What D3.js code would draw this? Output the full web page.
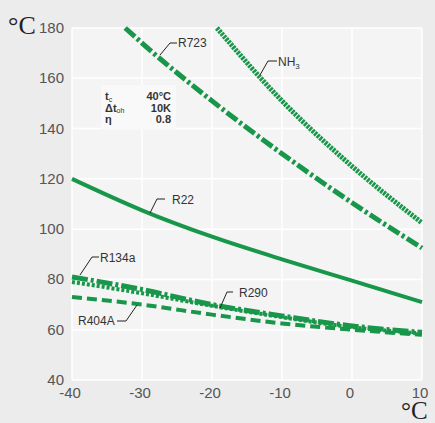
<!DOCTYPE html>
<html>
<head>
<meta charset="utf-8">
<script src="https://cdn.jsdelivr.net/npm/d3@7"></script>
<style>
  body { margin: 0; background: #ececec; }
  svg { display: block; font-family: "Liberation Sans", Arial, sans-serif; }
</style>
</head>
<body>
<div id="chart"></div>
<script>
// Data (evaporating temp °C -> discharge temp °C)
const xTicks = [-40, -30, -20, -10, 0, 10];
const yTicks = [40, 60, 80, 100, 120, 140, 160, 180];

const r22 = [[-40, 120], [-30, 107.5], [-20, 97], [-10, 88], [0, 79.5], [10, 71]];
const r723 = [[-32.4, 180], [-30, 174], [-20, 151], [-10, 130], [0, 110.5], [10, 92.5]];
const nh3 = [[-19.3, 180], [-10, 151], [0, 125], [10, 102.5]];
const r134a = [[-40, 81], [-30, 76], [-20, 70], [-10, 65.5], [0, 61.5], [10, 59]];
const r290 = [[-40, 79], [-30, 74.5], [-20, 69.5], [-10, 65], [0, 61], [10, 58.5]];
const r404a = [[-40, 73], [-30, 70], [-20, 66], [-10, 62.5], [0, 60], [10, 58]];

const boxRows = [["t", "c", "40°C"], ["Δt", "oh", "10K"], ["η", "", "0.8"]];

const width = 435, height = 423;
const margin = { top: 28, right: 13, bottom: 43, left: 72 };

const svg = d3.select("#chart").append("svg")
  .attr("width", width)
  .attr("height", height);

const x = d3.scaleLinear().domain([-40, 10]).range([margin.left, width - margin.right]);
const y = d3.scaleLinear().domain([40, 180]).range([height - margin.bottom, margin.top]);

const green = "#18964a";

// plot background
svg.append("rect")
  .attr("x", x(-40)).attr("y", y(180))
  .attr("width", x(10) - x(-40)).attr("height", y(40) - y(180))
  .attr("fill", "#f3f4f3");

// grid
svg.append("g").selectAll("line").data(xTicks).join("line")
  .attr("x1", d => x(d)).attr("x2", d => x(d))
  .attr("y1", y(40)).attr("y2", y(180))
  .attr("stroke", "#fff").attr("stroke-width", 1.5);
svg.append("g").selectAll("line").data(yTicks).join("line")
  .attr("x1", x(-40)).attr("x2", x(10))
  .attr("y1", d => y(d)).attr("y2", d => y(d))
  .attr("stroke", "#fff").attr("stroke-width", 1.5);

// tick labels
svg.append("g").selectAll("text").data(yTicks).join("text")
  .attr("x", 64).attr("y", d => y(d) + 5)
  .attr("text-anchor", "end")
  .attr("font-size", 15).attr("fill", "#555")
  .text(d => d);
svg.append("g").selectAll("text").data(xTicks).join("text")
  .attr("x", d => x(d) - 2).attr("y", 398)
  .attr("text-anchor", "middle")
  .attr("font-size", 15).attr("fill", "#555")
  .text(d => d);

// unit labels
svg.append("text").attr("x", 8).attr("y", 34)
  .attr("font-family", "Liberation Serif, serif").attr("font-size", 26).attr("fill", "#222")
  .text("°C");
svg.append("text").attr("x", 401).attr("y", 419)
  .attr("font-family", "Liberation Serif, serif").attr("font-size", 25).attr("fill", "#222")
  .text("°C");

// conditions box
const box = svg.append("g");
box.append("rect").attr("x", 101).attr("y", 85).attr("width", 75).attr("height", 44)
  .attr("fill", "#f9f9f9");
boxRows.forEach((r, i) => {
  const yy = 100 + i * 11.5;
  const main = box.append("text").attr("x", 105).attr("y", yy)
    .attr("font-size", 11).attr("font-weight", "bold").attr("fill", "#333")
    .text(r[0]);
  if (r[1]) {
    const w = main.node().getComputedTextLength();
    box.append("text").attr("x", 105 + w).attr("y", yy + 1.5)
      .attr("font-size", 7).attr("fill", "#333")
      .text(r[1]);
  }
  box.append("text").attr("x", 171).attr("y", yy)
    .attr("text-anchor", "end")
    .attr("font-size", 11).attr("font-weight", "bold").attr("fill", "#333")
    .text(r[2]);
});

// clip curves to plot
svg.append("defs").append("clipPath").attr("id", "clip")
  .append("rect")
  .attr("x", x(-40) - 3).attr("y", y(180) - 3)
  .attr("width", x(10) - x(-40) + 6).attr("height", y(40) - y(180) + 6);

const line = d3.line().x(d => x(d[0])).y(d => y(d[1])).curve(d3.curveMonotoneX);

const series = [
  { data: r404a, dash: "10,5", w: 4 },
  { data: r290, dash: "3,2", w: 4 },
  { data: r134a, dash: "16,3,3,3", w: 5 },
  { data: r22, dash: null, w: 4 },
  { data: r723, dash: "13,3,3,3", w: 5 },
  { data: nh3, dash: "2.5,1", w: 5 },
];

svg.append("g").attr("clip-path", "url(#clip)")
  .selectAll("path").data(series).join("path")
  .attr("d", d => line(d.data))
  .attr("fill", "none")
  .attr("stroke", green)
  .attr("stroke-width", d => d.w)
  .attr("stroke-dasharray", d => d.dash);

// labels with leader lines
const labels = [
  { name: "R723", sub: "", pts: [[160, 55], [170, 43], [177, 43]], tx: 178, ty: 47 },
  { name: "NH", sub: "3", pts: [[260, 75], [268, 61], [277, 61]], tx: 278, ty: 66 },
  { name: "R22", sub: "", pts: [[150, 213], [157, 199], [165, 199]], tx: 172, ty: 204 },
  { name: "R134a", sub: "", pts: [[80, 275], [92, 257], [99, 257]], tx: 100, ty: 262 },
  { name: "R290", sub: "", pts: [[220, 308], [227, 292], [233, 292]], tx: 239, ty: 297 },
  { name: "R404A", sub: "", pts: [[137, 305], [126, 321], [117, 321]], tx: 78, ty: 325 },
];
labels.forEach(l => {
  svg.append("path")
    .attr("d", d3.line()(l.pts))
    .attr("fill", "none").attr("stroke", "#222").attr("stroke-width", 1);
  const t = svg.append("text").attr("x", l.tx).attr("y", l.ty)
    .attr("font-size", 12).attr("fill", "#333")
    .text(l.name);
  if (l.sub) {
    const w = t.node().getComputedTextLength();
    svg.append("text").attr("x", l.tx + w).attr("y", l.ty + 3)
      .attr("font-size", 8).attr("fill", "#333")
      .text(l.sub);
  }
});
</script>
</body>
</html>
